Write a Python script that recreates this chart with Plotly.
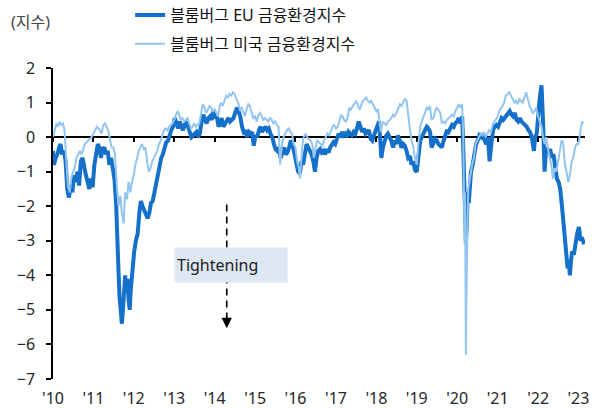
import plotly.graph_objects as go

# ---------------- data ----------------
eu_dates = [
 "2010-01-01","2010-01-10","2010-01-25","2010-02-10","2010-02-25","2010-03-10","2010-03-25","2010-04-10","2010-04-25","2010-05-10","2010-05-25","2010-06-10","2010-06-25","2010-07-10","2010-07-25","2010-08-10","2010-08-25","2010-09-10","2010-09-25","2010-10-10","2010-10-25","2010-11-10","2010-11-25","2010-12-10","2010-12-25",
 "2011-01-10","2011-01-25","2011-02-10","2011-02-25","2011-03-10","2011-03-25","2011-04-10","2011-04-25","2011-05-10","2011-05-25","2011-06-10","2011-06-25","2011-07-10","2011-07-25","2011-08-05","2011-08-15","2011-08-25","2011-09-05","2011-09-15","2011-09-25","2011-10-05","2011-10-15","2011-10-25","2011-11-05","2011-11-15","2011-11-25","2011-12-05","2011-12-20",
 "2012-01-05","2012-01-20","2012-02-05","2012-02-20","2012-03-05","2012-03-20","2012-04-05","2012-04-20","2012-05-05","2012-05-20","2012-06-05","2012-06-20","2012-07-05","2012-07-20","2012-08-05","2012-08-20","2012-09-05","2012-09-20","2012-10-05","2012-10-20","2012-11-05","2012-11-20","2012-12-05","2012-12-20",
 "2013-01-05","2013-01-20","2013-02-05","2013-02-20","2013-03-05","2013-03-20","2013-04-05","2013-04-20","2013-05-05","2013-05-20","2013-06-05","2013-06-20","2013-07-05","2013-07-20","2013-08-05","2013-08-20","2013-09-05","2013-09-20","2013-10-05","2013-10-20","2013-11-05","2013-11-20","2013-12-05","2013-12-20",
 "2014-01-05","2014-01-20","2014-02-05","2014-02-20","2014-03-05","2014-03-20","2014-04-05","2014-04-20","2014-05-05","2014-05-20","2014-06-05","2014-06-20","2014-07-05","2014-07-20","2014-08-05","2014-08-20","2014-09-05","2014-09-20","2014-10-05","2014-10-20","2014-11-05","2014-11-20","2014-12-05","2014-12-20",
 "2015-01-05","2015-01-20","2015-02-05","2015-02-20","2015-03-05","2015-03-20","2015-04-05","2015-04-20","2015-05-05","2015-05-20","2015-06-05","2015-06-20","2015-07-05","2015-07-20","2015-08-05","2015-08-20","2015-09-05","2015-09-20","2015-10-05","2015-10-20","2015-11-05","2015-11-20","2015-12-05","2015-12-20",
 "2016-01-10","2016-01-25","2016-02-10","2016-02-25","2016-03-10","2016-03-25","2016-04-10","2016-04-25","2016-05-10","2016-05-25","2016-06-10","2016-06-25","2016-07-10","2016-07-25","2016-08-10","2016-08-25","2016-09-10","2016-09-25","2016-10-10","2016-10-25","2016-11-10","2016-11-25","2016-12-10","2016-12-25",
 "2017-01-10","2017-01-25","2017-02-10","2017-02-25","2017-03-10","2017-03-25","2017-04-10","2017-04-25","2017-05-10","2017-05-25","2017-06-10","2017-06-25","2017-07-10","2017-07-25","2017-08-10","2017-08-25","2017-09-10","2017-09-25","2017-10-10","2017-10-25","2017-11-10","2017-11-25","2017-12-10","2017-12-25",
 "2018-01-10","2018-01-25","2018-02-05","2018-02-15","2018-03-01","2018-03-15","2018-04-01","2018-04-15","2018-05-01","2018-05-15","2018-06-01","2018-06-15","2018-07-01","2018-07-15","2018-08-01","2018-08-15","2018-09-01","2018-09-15","2018-10-01","2018-10-15","2018-11-01","2018-11-15","2018-12-01","2018-12-15",
 "2019-01-01","2019-01-15","2019-02-01","2019-02-15","2019-03-01","2019-03-15","2019-04-01","2019-04-15","2019-05-01","2019-05-15","2019-06-01","2019-06-15","2019-07-01","2019-07-15","2019-08-01","2019-08-15","2019-09-01","2019-09-15","2019-10-01","2019-10-15","2019-11-01","2019-11-15","2019-12-01","2019-12-15",
 "2020-01-01","2020-01-15","2020-02-01","2020-02-15","2020-02-25","2020-03-05","2020-03-12","2020-03-20","2020-03-28","2020-04-05","2020-04-15","2020-04-25","2020-05-05","2020-05-20","2020-06-05","2020-06-20","2020-07-05","2020-07-20","2020-08-05","2020-08-20","2020-09-05","2020-09-20","2020-10-05","2020-10-20","2020-11-05","2020-11-20","2020-12-05","2020-12-20",
 "2021-01-05","2021-01-20","2021-02-05","2021-02-20","2021-03-05","2021-03-20","2021-04-05","2021-04-20","2021-05-05","2021-05-20","2021-06-05","2021-06-20","2021-07-05","2021-07-20","2021-08-05","2021-08-20","2021-09-05","2021-09-20","2021-10-05","2021-10-20","2021-11-05","2021-11-25","2021-12-05","2021-12-20",
 "2022-01-15","2022-02-01","2022-02-15","2022-03-01","2022-03-15","2022-04-01","2022-04-20","2022-05-05","2022-05-20","2022-06-05","2022-06-20","2022-07-05","2022-07-20","2022-08-05","2022-08-20","2022-09-05","2022-09-15","2022-09-25","2022-10-05","2022-10-15","2022-10-25","2022-11-05","2022-11-20","2022-12-05","2022-12-20",
 "2023-01-05","2023-01-20","2023-02-01","2023-02-20",
]
eu_values = [
 -0.4,-0.8,-0.6,-0.5,-0.3,-0.2,-0.5,-0.4,-0.7,-1.5,-1.75,-1.4,-1.6,-1.1,-1.3,-1.0,-1.4,-0.7,-0.6,-0.9,-1.1,-1.3,-1.5,-1.2,-1.45,
 -0.8,-0.5,-0.2,-0.3,-0.6,-0.35,-0.3,-0.5,-0.4,-0.8,-0.6,-0.9,-1.2,-1.9,-3.3,-3.8,-4.6,-4.9,-5.4,-5.0,-4.3,-4.0,-4.5,-4.1,-4.7,-5.0,-4.4,-3.8,
 -3.3,-3.0,-2.8,-2.2,-1.85,-2.0,-2.15,-2.25,-2.35,-2.2,-1.9,-1.85,-1.6,-1.35,-1.1,-0.9,-0.6,-0.5,-0.3,-0.15,-0.1,0.1,0.2,0.3,
 0.55,0.4,0.25,0.45,0.3,0.2,0.35,0.45,0.3,0.15,0.0,0.05,0.1,0.15,0.0,0.1,0.45,0.65,0.5,0.4,0.55,0.6,0.5,0.75,
 0.55,0.6,0.3,0.45,0.55,0.3,0.4,0.5,0.55,0.45,0.5,0.55,0.7,0.85,0.75,0.6,0.3,0.15,0.2,0.0,0.15,0.1,0.15,-0.25,
 0.05,0.0,0.2,0.3,0.15,0.25,0.3,0.2,0.25,0.1,0.0,-0.2,-0.35,-0.4,-0.3,-0.6,-0.4,-0.3,-0.5,-0.45,-0.3,-0.1,-0.2,-0.4,
 -0.8,-1.0,-1.05,-0.7,-0.8,-0.5,-0.2,-0.3,-0.4,-0.5,-0.7,-1.0,-0.6,-0.4,-0.35,-0.45,-0.4,-0.5,-0.35,-0.45,-0.3,-0.2,-0.15,-0.2,
 -0.05,0.1,0.0,0.15,0.05,0.1,0.0,0.15,0.1,0.05,0.15,0.1,0.25,0.45,0.3,0.15,0.25,0.1,0.15,0.2,-0.05,-0.1,0.05,0.2,
 0.3,0.45,-0.1,-0.6,-0.3,-0.1,0.05,0.1,0.0,-0.1,-0.3,-0.1,-0.2,0.05,-0.1,-0.3,-0.2,-0.25,-0.4,-0.6,-0.55,-0.8,-0.7,-0.95,
 -1.0,-0.6,-0.1,0.0,0.1,0.2,0.3,0.25,0.15,-0.3,-0.15,-0.05,-0.1,-0.2,-0.25,-0.3,-0.1,0.1,0.2,0.15,0.3,0.35,0.3,0.4,
 0.45,0.55,0.4,0.6,-0.3,-1.3,-2.4,-3.0,-2.6,-1.6,-1.9,-1.3,-1.0,-0.8,-0.4,-0.2,-0.1,0.05,0.0,0.1,-0.1,-0.2,0.0,-0.7,-0.2,0.2,0.3,0.35,
 0.3,0.45,0.55,0.5,0.55,0.6,0.7,0.75,0.65,0.6,0.7,0.5,0.45,0.55,0.45,0.4,0.35,0.3,0.2,0.15,0.0,-0.4,0.0,0.1,
 1.1,1.5,0.45,-1.0,-0.3,-0.45,-0.35,-0.6,-0.5,-0.9,-1.2,-1.3,-1.5,-2.0,-2.5,-3.0,-3.5,-3.8,-3.6,-4.0,-3.6,-3.3,-3.4,-3.0,-2.8,
 -2.6,-3.0,-2.9,-3.1,
]

us_dates = [
 "2010-01-01","2010-01-15","2010-02-01","2010-02-15","2010-03-01","2010-03-15","2010-04-01","2010-04-15","2010-05-01","2010-05-15","2010-06-01","2010-06-15","2010-07-01","2010-07-15","2010-08-01","2010-08-15","2010-09-01","2010-09-15","2010-10-01","2010-10-15","2010-11-01","2010-11-15","2010-12-01","2010-12-15",
 "2011-01-01","2011-01-15","2011-02-01","2011-02-15","2011-03-01","2011-03-15","2011-04-01","2011-04-15","2011-05-01","2011-05-15","2011-06-01","2011-06-15","2011-07-01","2011-07-15","2011-08-01","2011-08-15","2011-09-01","2011-09-15","2011-10-01","2011-10-15","2011-11-01","2011-11-15","2011-12-01","2011-12-15",
 "2012-01-01","2012-01-15","2012-02-01","2012-02-15","2012-03-01","2012-03-15","2012-04-01","2012-04-15","2012-05-01","2012-05-15","2012-06-01","2012-06-15","2012-07-01","2012-07-15","2012-08-01","2012-08-15","2012-09-01","2012-09-15","2012-10-01","2012-10-15","2012-11-01","2012-11-15","2012-12-01","2012-12-15",
 "2013-01-01","2013-01-15","2013-02-01","2013-02-15","2013-03-01","2013-03-15","2013-04-01","2013-04-15","2013-05-01","2013-05-15","2013-06-01","2013-06-15","2013-07-01","2013-07-15","2013-08-01","2013-08-15","2013-09-01","2013-09-15","2013-10-01","2013-10-15","2013-11-01","2013-11-15","2013-12-01","2013-12-15",
 "2014-01-01","2014-01-15","2014-02-01","2014-02-15","2014-03-01","2014-03-15","2014-04-01","2014-04-15","2014-05-01","2014-05-15","2014-06-01","2014-06-15","2014-07-01","2014-07-15","2014-08-01","2014-08-15","2014-09-01","2014-09-15","2014-10-01","2014-10-15","2014-11-01","2014-11-15","2014-12-01","2014-12-15",
 "2015-01-01","2015-01-15","2015-02-01","2015-02-15","2015-03-01","2015-03-15","2015-04-01","2015-04-15","2015-05-01","2015-05-15","2015-06-01","2015-06-15","2015-07-01","2015-07-15","2015-08-01","2015-08-15","2015-09-01","2015-09-15","2015-10-01","2015-10-15","2015-11-01","2015-11-15","2015-12-01","2015-12-15",
 "2016-01-01","2016-01-15","2016-02-01","2016-02-10","2016-02-20","2016-03-01","2016-03-15","2016-04-01","2016-04-15","2016-05-01","2016-05-15","2016-06-01","2016-06-15","2016-07-01","2016-07-15","2016-08-01","2016-08-15","2016-09-01","2016-09-15","2016-10-01","2016-10-15","2016-11-01","2016-11-15","2016-12-01","2016-12-15",
 "2017-01-01","2017-01-15","2017-02-01","2017-02-15","2017-03-01","2017-03-15","2017-04-01","2017-04-15","2017-05-01","2017-05-15","2017-06-01","2017-06-15","2017-07-01","2017-07-15","2017-08-01","2017-08-15","2017-09-01","2017-09-15","2017-10-01","2017-10-15","2017-11-01","2017-11-15","2017-12-01","2017-12-15",
 "2018-01-01","2018-01-15","2018-02-01","2018-02-10","2018-02-20","2018-03-01","2018-03-15","2018-04-01","2018-04-15","2018-05-01","2018-05-15","2018-06-01","2018-06-15","2018-07-01","2018-07-15","2018-08-01","2018-08-15","2018-09-01","2018-09-15","2018-10-01","2018-10-15","2018-11-01","2018-11-15","2018-12-01","2018-12-15",
 "2019-01-01","2019-01-15","2019-02-01","2019-02-15","2019-03-01","2019-03-15","2019-04-01","2019-04-15","2019-05-01","2019-05-15","2019-06-01","2019-06-15","2019-07-01","2019-07-15","2019-08-01","2019-08-15","2019-09-01","2019-09-15","2019-10-01","2019-10-15","2019-11-01","2019-11-15","2019-12-01","2019-12-15",
 "2020-01-01","2020-01-15","2020-02-01","2020-02-15","2020-02-25","2020-03-03","2020-03-08","2020-03-12","2020-03-16","2020-03-20","2020-03-24","2020-03-28","2020-04-03","2020-04-10","2020-04-20","2020-05-01","2020-05-15","2020-06-01","2020-06-15","2020-07-01","2020-07-15","2020-08-01","2020-08-15","2020-09-01","2020-09-15","2020-10-01","2020-10-15","2020-11-01","2020-11-15","2020-12-01","2020-12-15",
 "2021-01-01","2021-01-15","2021-02-01","2021-02-15","2021-03-01","2021-03-15","2021-04-01","2021-04-15","2021-05-01","2021-05-15","2021-06-01","2021-06-15","2021-07-01","2021-07-15","2021-08-01","2021-08-15","2021-09-01","2021-09-15","2021-10-01","2021-10-15","2021-11-01","2021-11-15","2021-12-01","2021-12-15",
 "2022-01-01","2022-01-15","2022-02-01","2022-02-15","2022-03-01","2022-03-15","2022-04-01","2022-04-15","2022-05-01","2022-05-15","2022-06-01","2022-06-15","2022-07-01","2022-07-15","2022-08-01","2022-08-15","2022-09-01","2022-09-15","2022-10-01","2022-10-15","2022-11-01","2022-11-15","2022-12-01","2022-12-15",
 "2023-01-01","2023-01-15","2023-02-01","2023-02-15",
]
us_values = [
 0.0,0.2,0.4,0.3,0.45,0.35,0.4,0.2,-0.6,-1.4,-1.6,-1.2,-1.0,-0.9,-0.6,-0.5,-0.4,-0.5,-0.3,-0.2,-0.15,-0.1,-0.05,0.0,
 0.1,0.2,0.3,0.25,0.2,0.1,0.35,0.4,0.3,0.2,-0.1,-0.3,-0.3,-0.5,-1.4,-2.0,-1.7,-2.2,-2.5,-1.6,-1.8,-1.3,-1.6,-1.3,
 -1.1,-0.8,-0.6,-0.4,-0.3,-0.2,-0.35,-0.3,-0.7,-1.0,-0.9,-0.7,-0.6,-0.5,-0.4,-0.2,-0.1,0.05,0.2,0.25,0.2,0.3,0.35,0.4,
 0.5,0.65,0.75,0.6,0.5,0.55,0.45,0.5,0.55,0.4,0.25,0.3,0.4,0.3,0.35,0.4,0.7,0.95,0.85,0.7,0.8,0.9,0.85,0.75,
 0.8,0.7,0.6,0.9,1.0,0.9,1.1,1.2,1.15,1.25,1.2,1.3,1.25,1.1,1.0,0.8,0.85,0.75,0.6,0.8,0.95,0.9,0.7,0.55,
 0.6,0.45,0.65,0.7,0.6,0.5,0.55,0.5,0.45,0.55,0.5,0.4,0.45,0.35,0.3,-0.8,-0.2,0.0,0.1,0.2,0.25,0.15,0.1,-0.2,
 -0.3,-0.7,-0.9,-1.2,-0.8,-0.3,0.0,0.1,0.0,-0.05,-0.1,-0.2,-0.6,-0.3,-0.1,-0.15,-0.2,-0.25,-0.1,0.0,0.1,0.05,0.2,0.3,0.35,
 0.25,0.3,0.45,0.65,0.6,0.5,0.45,0.55,0.85,0.8,0.9,1.0,1.05,0.95,0.8,0.9,1.05,1.1,1.15,1.05,1.0,1.05,0.95,0.85,
 0.75,0.8,0.4,0.15,0.3,0.45,0.4,0.35,0.45,0.5,0.55,0.65,0.6,0.7,0.8,0.95,0.9,1.0,1.1,1.05,0.6,0.2,-0.1,-0.3,-0.6,
 -0.8,-0.2,0.3,0.45,0.55,0.7,0.85,0.8,0.9,0.5,0.55,0.75,0.85,0.8,0.7,0.4,0.45,0.4,0.5,0.55,0.6,0.65,0.6,0.75,
 0.85,0.95,0.85,0.95,0.0,-1.5,-3.1,-1.6,-3.1,-6.3,-4.8,-3.1,-2.5,-1.5,-1.3,-1.1,-0.8,-0.6,-0.2,-0.1,0.0,0.1,0.05,0.15,0.0,0.1,0.2,0.15,0.35,0.45,0.5,
 0.6,0.75,0.85,0.9,1.0,1.2,1.25,1.3,1.2,1.1,1.0,1.05,0.95,1.1,1.05,1.0,1.15,1.3,1.1,0.9,0.8,0.7,0.75,0.85,
 0.6,0.45,0.3,0.0,-0.2,0.0,-0.4,-0.6,-0.8,-1.2,-0.9,-1.0,-0.7,-0.4,-0.1,-0.15,-0.8,-1.0,-1.3,-1.1,-0.7,-0.6,-0.3,-0.2,
 -0.2,0.1,0.45,0.4,
]

series_names = ["블룸버그 EU 금융환경지수", "블룸버그 미국 금융환경지수"]
y_ticks = [2, 1, 0, -1, -2, -3, -4, -5, -6, -7]
unit_label = "(지수)"
note_label = "Tightening"

# ---------------- styling ----------------
EU_COLOR = "#1470c8"
US_COLOR = "#92c5f2"
FONT = "Noto Sans, Noto Sans CJK KR, sans-serif"
TXT = "#262626"
X_RANGE = ["2010-01-01", "2023-03-01"]

fig = go.Figure()
fig.add_trace(go.Scatter(x=eu_dates, y=eu_values, mode="lines", name=series_names[0],
                         line=dict(color=EU_COLOR, width=4), legendgroup="a"))
fig.add_trace(go.Scatter(x=us_dates, y=us_values, mode="lines", name=series_names[1],
                         line=dict(color=US_COLOR, width=2), legendgroup="b"))
# invisible helper trace so the zero-line axis (x2) is drawn
fig.add_trace(go.Scatter(x=[X_RANGE[0]], y=[0], xaxis="x2", mode="markers",
                         marker=dict(opacity=0), showlegend=False, hoverinfo="skip"))

fig.update_layout(
    width=597, height=408,
    margin=dict(l=53, r=12, t=68, b=29, autoexpand=False),
    paper_bgcolor="white", plot_bgcolor="white",
    font=dict(family=FONT, size=16, color=TXT),
    showlegend=True,
    legend=dict(x=0.145, y=1.225, xanchor="left", yanchor="top",
                bgcolor="rgba(0,0,0,0)", font=dict(size=16, color="#111"),
                tracegroupgap=5, itemwidth=30),
    xaxis=dict(type="date", range=X_RANGE, showline=False, showgrid=False, zeroline=False,
               tickformat="'%y", dtick="M12", tick0="2010-01-01",
               ticks="outside", ticklen=5, tickcolor="rgba(0,0,0,0)",
               tickfont=dict(size=16, color=TXT)),
    xaxis2=dict(type="date", range=X_RANGE, overlaying="x", anchor="free", position=7/9,
                showline=True, linecolor="black", linewidth=1.5, layer="below traces",
                ticks="outside", ticklen=4, tickwidth=1.5, tickcolor="black",
                dtick="M12", tick0="2010-01-01", showticklabels=False,
                showgrid=False, zeroline=False),
    yaxis=dict(range=[-7, 2], tickvals=y_ticks, showgrid=False, zeroline=False,
               showline=True, linecolor="black", linewidth=1.5,
               ticks="outside", ticklen=5, tickwidth=1.5, tickcolor="black",
               ticklabelstandoff=8, tickfont=dict(size=16, color=TXT)),
)

# unit label
fig.add_annotation(text=unit_label, xref="paper", yref="paper", x=-0.083, y=1.148,
                   xanchor="left", yanchor="middle", showarrow=False,
                   font=dict(size=16, color="#444"))

# dashed arrow (tightening direction)
fig.add_shape(type="line", xref="x", yref="y", x0="2014-04-20", x1="2014-04-20",
              y0=-1.95, y1=-5.2, line=dict(color="black", width=1.6, dash="7px,5px"))
fig.add_annotation(x="2014-04-20", y=-5.53, xref="x", yref="y", ax=0, ay=-14,
                   text="", showarrow=True, arrowhead=2, arrowsize=1.3, arrowwidth=1.6,
                   arrowcolor="black")
# label box
fig.add_annotation(x="2014-05-28", y=-3.7, xref="x", yref="y", text=note_label,
                   showarrow=False, bgcolor="#dce7f3", width=108, height=30,
                   align="left", valign="middle", borderpad=2,
                   font=dict(size=16, color="#222"))

fig.write_html("out.html", config={"displayModeBar": False},
               post_script="document.body.style.margin='0';document.body.style.overflow='hidden';")
